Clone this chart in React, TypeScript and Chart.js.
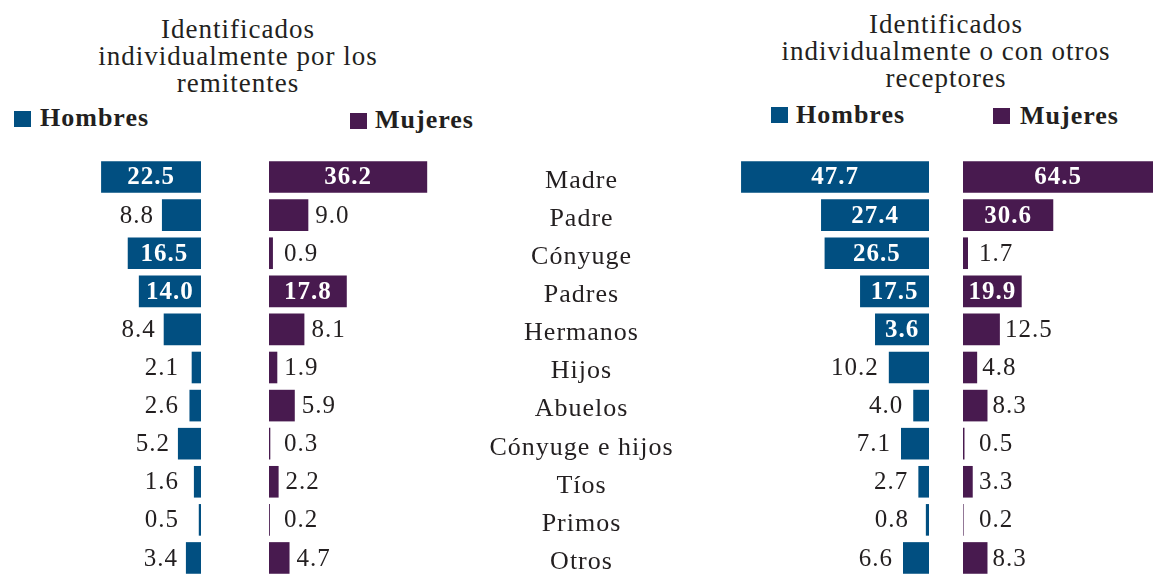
import React, { useEffect, useRef } from 'react';
import { Chart, registerables } from 'chart.js';

Chart.register(...registerables);

// ---------- data ----------
const categories = [
  'Madre', 'Padre', 'Cónyuge', 'Padres', 'Hermanos', 'Hijos',
  'Abuelos', 'Cónyuge e hijos', 'Tíos', 'Primos', 'Otros',
];

// Identificados individualmente por los remitentes
const leftMen = [22.5, 8.8, 16.5, 14.0, 8.4, 2.1, 2.6, 5.2, 1.6, 0.5, 3.4];
const leftWomen = [36.2, 9.0, 0.9, 17.8, 8.1, 1.9, 5.9, 0.3, 2.2, 0.2, 4.7];

// Identificados individualmente o con otros receptores
// (bar lengths as drawn in the source; the Hermanos bar is labelled 3.6)
const rightMen = [47.7, 27.4, 26.5, 17.5, 13.7, 10.2, 4.0, 7.1, 2.7, 0.8, 6.6];
const rightMenLabels = ['47.7', '27.4', '26.5', '17.5', '3.6', '10.2', '4.0', '7.1', '2.7', '0.8', '6.6'];
const rightWomen = [64.5, 30.6, 1.7, 19.9, 12.5, 4.8, 8.3, 0.5, 3.3, 0.2, 8.3];

const fmt = (v: number) => v.toFixed(1);

// ---------- styles ----------
const MEN = '#014f81';
const WOMEN = '#481a4f';
const INK = '#231f20';
const SERIF = '"Liberation Serif", "Times New Roman", serif';

const valueLabelPlugin = {
  id: 'valueLabels',
  afterDatasetsDraw(chart: any, _args: any, opts: any) {
    const { ctx, chartArea } = chart;
    const meta = chart.getDatasetMeta(0);
    const labels: string[] = opts.labels;
    meta.data.forEach((el: any, i: number) => {
      const p = el.getProps(['x', 'y', 'base'], true);
      const endX = Math.max(chartArea.left, Math.min(chartArea.right, p.x));
      const leftward = p.x < p.base;
      const width = Math.abs(endX - p.base);
      const text = labels[i];
      ctx.save();
      ctx.textBaseline = 'middle';
      try { (ctx as any).letterSpacing = '1px'; } catch (e) {}
      if (width >= 50) {
        ctx.font = `bold 25px ${SERIF}`;
        ctx.fillStyle = '#ffffff';
        ctx.textAlign = 'center';
        ctx.fillText(text, (endX + p.base) / 2, p.y + 1);
      } else {
        ctx.font = `25px ${SERIF}`;
        ctx.fillStyle = INK;
        if (leftward) {
          ctx.textAlign = 'right';
          const ax = Math.min(endX - opts.gap, p.base - opts.minOff);
          ctx.fillText(text, ax, p.y + 1);
        } else {
          ctx.textAlign = 'left';
          const ax = Math.max(endX + opts.gap, p.base + opts.minOff);
          ctx.fillText(text, ax, p.y + 1);
        }
      }
      ctx.restore();
    });
  },
};

const categoryLabelPlugin = {
  id: 'categoryLabels',
  afterDatasetsDraw(chart: any, _args: any, opts: any) {
    const { ctx } = chart;
    const yScale = chart.scales.y;
    ctx.save();
    ctx.font = `26px ${SERIF}`;
    ctx.fillStyle = INK;
    ctx.textAlign = 'center';
    ctx.textBaseline = 'middle';
    try { (ctx as any).letterSpacing = '1px'; } catch (e) {}
    chart.data.labels.forEach((lab: string, i: number) => {
      ctx.fillText(lab, opts.centerX, yScale.getPixelForValue(i) + 4);
    });
    ctx.restore();
  },
};

function barChart(
  canvas: HTMLCanvasElement,
  values: number[],
  labels: string[],
  color: string,
  max: number,
  reverse: boolean,
  gap: number,
  minOff: number,
) {
  return new Chart(canvas, {
    type: 'bar',
    data: {
      labels: categories,
      datasets: [{
        data: values,
        backgroundColor: color,
        borderWidth: 0,
        barPercentage: 0.83,
        categoryPercentage: 1,
      }],
    },
    options: {
      indexAxis: 'y',
      responsive: false,
      animation: false,
      layout: { padding: 0 },
      scales: {
        x: { type: 'linear', display: false, min: 0, max, reverse },
        y: { display: false },
      },
      plugins: {
        legend: { display: false },
        tooltip: { enabled: false },
        valueLabels: { labels, gap, minOff },
      } as any,
    },
    plugins: [valueLabelPlugin],
  } as any);
}

const TOP = 158;
const H = 419;

export default function App() {
  const lm = useRef<HTMLCanvasElement>(null);
  const lw = useRef<HTMLCanvasElement>(null);
  const cat = useRef<HTMLCanvasElement>(null);
  const rm = useRef<HTMLCanvasElement>(null);
  const rw = useRef<HTMLCanvasElement>(null);

  useEffect(() => {
    const charts: Chart[] = [];
    charts.push(barChart(lm.current!, leftMen, leftMen.map(fmt), MEN, 201 / 4.44, true, 8, 22));
    charts.push(barChart(lw.current!, leftWomen, leftWomen.map(fmt), WOMEN, 200 / 4.37, false, 7, 15));
    charts.push(barChart(rm.current!, rightMen, rightMenLabels, MEN, 209 / 3.94, true, 10, 20));
    charts.push(barChart(rw.current!, rightWomen, rightWomen.map(fmt), WOMEN, 190 / 2.95, false, 5, 16));
    charts.push(new Chart(cat.current!, {
      type: 'bar',
      data: {
        labels: categories,
        datasets: [{ data: categories.map(() => 0), backgroundColor: 'rgba(0,0,0,0)' }],
      },
      options: {
        indexAxis: 'y',
        responsive: false,
        animation: false,
        layout: { padding: 0 },
        scales: {
          x: { display: false, min: 0, max: 1 },
          y: { display: false },
        },
        plugins: {
          legend: { display: false },
          tooltip: { enabled: false },
          categoryLabels: { centerX: 111.5 },
        } as any,
      },
      plugins: [categoryLabelPlugin],
    } as any));
    return () => charts.forEach((c) => c.destroy());
  }, []);

  const abs = (left: number, top: number): React.CSSProperties => ({ position: 'absolute', left, top });
  const titleStyle = (cx: number, top: number): React.CSSProperties => ({
    position: 'absolute', left: cx - 250, top, width: 500, textAlign: 'center',
    fontFamily: SERIF, fontSize: 27, lineHeight: '27px', letterSpacing: '1px', color: INK,
  });
  const legendText = (left: number, top: number): React.CSSProperties => ({
    position: 'absolute', left, top, fontFamily: SERIF, fontWeight: 'bold', fontSize: 26,
    lineHeight: '26px', letterSpacing: '1px', color: INK, whiteSpace: 'nowrap',
  });
  const swatch = (left: number, top: number, color: string): React.CSSProperties => ({
    position: 'absolute', left, top, width: 17, height: 16, background: color,
  });

  return (
    <div style={{ position: 'absolute', left: 0, top: 0, width: 1153, height: 577, background: '#fff', overflow: 'hidden' }}>
      <div style={titleStyle(238, 16)}>Identificados<br />individualmente por los<br />remitentes</div>
      <div style={titleStyle(946, 11)}>Identificados<br />individualmente o con otros<br />receptores</div>

      <div style={swatch(14, 111, MEN)} />
      <div style={legendText(40, 105)}>Hombres</div>
      <div style={swatch(350, 113, WOMEN)} />
      <div style={legendText(375, 107)}>Mujeres</div>

      <div style={swatch(771, 107, MEN)} />
      <div style={legendText(796, 102)}>Hombres</div>
      <div style={swatch(993, 108, WOMEN)} />
      <div style={legendText(1020, 103)}>Mujeres</div>

      <canvas ref={lm} width={201} height={H} style={abs(0, TOP)} />
      <canvas ref={lw} width={200} height={H} style={abs(269, TOP)} />
      <canvas ref={cat} width={230} height={H} style={abs(470, TOP)} />
      <canvas ref={rm} width={209} height={H} style={abs(720, TOP)} />
      <canvas ref={rw} width={190} height={H} style={abs(963, TOP)} />
    </div>
  );
}
